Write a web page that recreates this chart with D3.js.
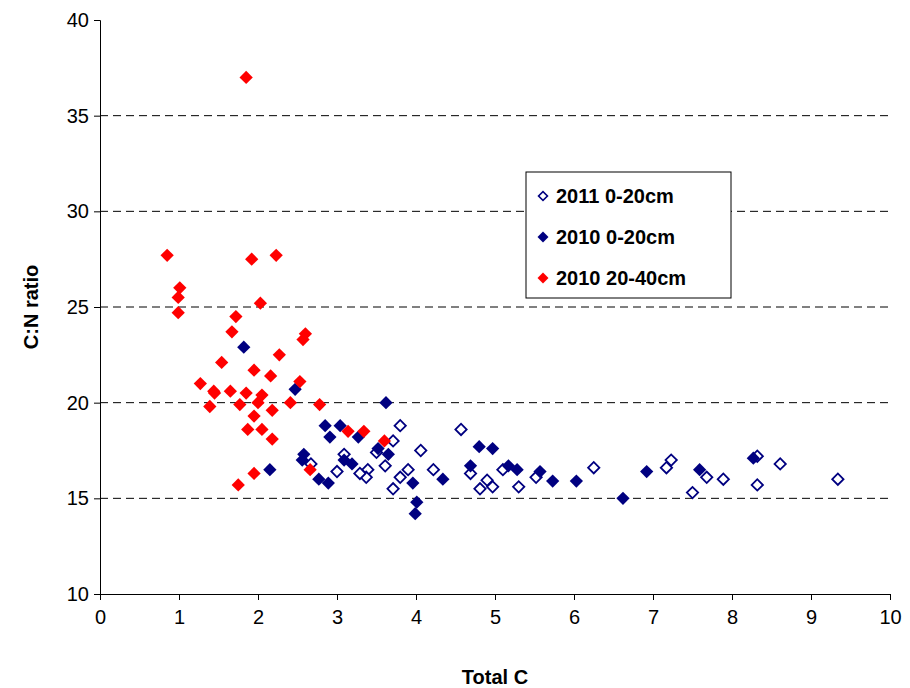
<!DOCTYPE html>
<html>
<head>
<meta charset="utf-8">
<script src="https://d3js.org/d3.v7.min.js"></script>
<style>
  body { margin: 0; background: #fff; }
  text { font-family: Arial, "Liberation Sans", sans-serif; }
</style>
</head>
<body>
<svg id="chart" width="910" height="688"></svg>
<script>
// data: [Total C, C:N ratio]
var open2011 = [[4.57,18.6],[4.69,16.3],[4.9,15.95],[4.81,15.5],[4.97,15.6],[5.1,16.5],[5.3,15.6],[5.52,16.1],
  [6.25,16.6],[7.17,16.6],[7.23,17.0],[7.5,15.3],[7.68,16.1],[7.89,16.0],[8.32,17.2],[8.32,15.7],[8.61,16.8],[9.34,16.0],
  [3.8,18.8],[3.71,18.0],[4.06,17.5],[4.22,16.5],[3.5,17.4],[3.61,16.7],[3.9,16.5],[3.8,16.1],[3.71,15.5],
  [3.09,17.3],[3.0,16.4],[3.39,16.5],[3.37,16.1],[3.29,16.3],[2.67,16.8]];
var filled2010 = [[1.82,22.9],[2.47,20.7],[3.62,20.0],[2.15,16.5],[2.85,18.8],[3.04,18.8],[2.91,18.2],[3.27,18.2],
  [3.52,17.6],[3.65,17.3],[2.58,17.3],[2.56,17.0],[3.09,17.0],[3.19,16.8],[2.77,16.0],[2.89,15.8],
  [3.96,15.8],[4.34,16.0],[4.01,14.8],[3.99,14.2],[4.8,17.7],[4.97,17.6],[4.69,16.7],[5.17,16.7],[5.28,16.5],
  [5.57,16.4],[5.73,15.9],[6.03,15.9],[6.62,15.0],[6.92,16.4],[7.59,16.5],[8.27,17.1]];
var red2010 = [[0.85,27.7],[1.01,26.0],[0.99,25.5],[0.99,24.7],[1.85,37.0],[1.92,27.5],[2.23,27.7],[2.03,25.2],
  [1.72,24.5],[1.67,23.7],[2.6,23.6],[2.57,23.3],[1.54,22.1],[2.27,22.5],[1.95,21.7],[2.16,21.4],
  [1.27,21.0],[1.44,20.6],[1.45,20.5],[1.65,20.6],[1.85,20.5],[2.05,20.4],[2.0,20.0],[2.53,21.1],[2.41,20.0],
  [2.78,19.9],[1.39,19.8],[1.77,19.9],[2.18,19.6],[1.95,19.3],[1.87,18.6],[2.05,18.6],[2.18,18.1],
  [3.14,18.5],[3.34,18.5],[3.6,18.0],[2.66,16.5],[1.95,16.3],[1.75,15.7]];
var xTicks = d3.range(0, 11, 1);
var yTicks = [10, 15, 20, 25, 30, 35, 40];
var seriesNames = ["2011 0-20cm", "2010 0-20cm", "2010 20-40cm"];

var svg = d3.select("#chart");
var x = d3.scaleLinear().domain([0, 10]).range([100, 890]);
var y = d3.scaleLinear().domain([10, 40]).range([594, 20]);

// dashed gridlines
svg.selectAll(".grid").data(yTicks.slice(1, -1)).enter().append("line")
  .attr("x1", 100).attr("x2", 890).attr("y1", y).attr("y2", y)
  .attr("stroke", "#000").attr("stroke-dasharray", "8,5");

var xa = svg.append("g").attr("transform", "translate(0,594)")
  .call(d3.axisBottom(x).tickValues(xTicks).tickSize(6).tickFormat(d3.format("d")));
var ya = svg.append("g").attr("transform", "translate(100,0)")
  .call(d3.axisLeft(y).tickValues(yTicks).tickSize(6));
[xa, ya].forEach(function (a) {
  a.selectAll("text").attr("font-size", 20).attr("fill", "#000")
    .style("font-family", "Arial, 'Liberation Sans', sans-serif");
  a.select(".domain").attr("stroke", "#000");
});
xa.selectAll("text").attr("dy", "1.05em");
ya.selectAll("text").attr("dx", "-0.1em");

svg.append("text").attr("x", 495).attr("y", 684).attr("text-anchor", "middle")
  .attr("font-size", 20).attr("font-weight", "bold").text("Total C");
svg.append("text").attr("transform", "translate(38,307) rotate(-90)").attr("text-anchor", "middle")
  .attr("font-size", 20).attr("font-weight", "bold").text("C:N ratio");

var diamond = d3.symbol().type(d3.symbolSquare).size(88);
function plot(data, fill, stroke) {
  var open = stroke !== "none";
  svg.append("g").selectAll("path").data(data).enter().append("path")
    .attr("d", open ? d3.symbol().type(d3.symbolSquare).size(64)() : diamond())
    .attr("transform", function (d) { return "translate(" + x(d[0]) + "," + y(d[1]) + ") rotate(45)"; })
    .attr("fill", fill).attr("stroke", stroke).attr("stroke-width", open ? 1.8 : 0);
}
plot(open2011, "#fff", "#000080");
plot(filled2010, "#000080", "none");
plot(red2010, "#ff0000", "none");

// legend
var lg = svg.append("g");
lg.append("rect").attr("x", 526).attr("y", 172).attr("width", 205).attr("height", 126)
  .attr("fill", "#fff").attr("stroke", "#000");
var styles = [["#fff", "#000080", 1.6, 40], ["#000080", "none", 0, 60], ["#ff0000", "none", 0, 60]];
seriesNames.forEach(function (n, i) {
  var cy = 196 + i * 41;
  lg.append("path").attr("d", d3.symbol().type(d3.symbolSquare).size(styles[i][3]))
    .attr("transform", "translate(543," + cy + ") rotate(45)")
    .attr("fill", styles[i][0]).attr("stroke", styles[i][1]).attr("stroke-width", styles[i][2]);
  lg.append("text").attr("x", 556).attr("y", cy + 7).attr("font-size", 20)
    .attr("font-weight", "bold").text(n);
});
</script>
</body>
</html>
